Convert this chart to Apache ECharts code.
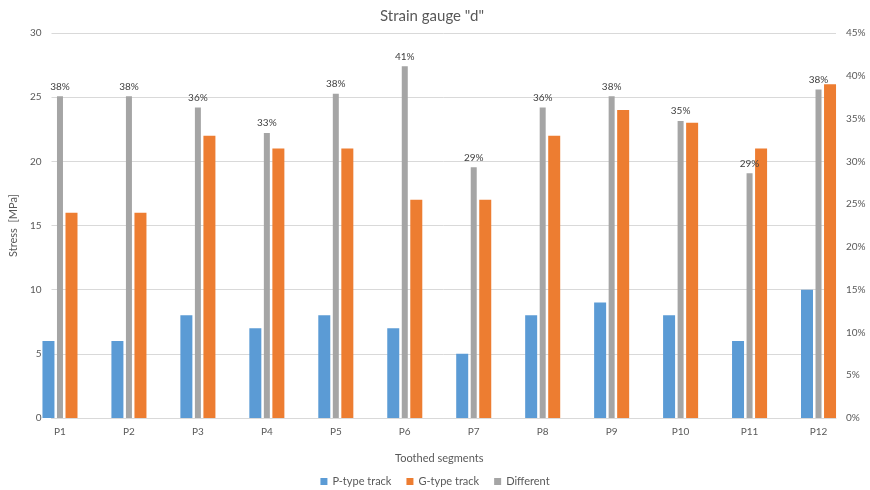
<!DOCTYPE html>
<html>
<head>
<meta charset="utf-8">
<script src="https://cdn.jsdelivr.net/npm/echarts@6/dist/echarts.min.js"></script>
<style>
  html, body { margin: 0; padding: 0; background: #ffffff; }
  #chart { width: 870px; height: 490px; }
</style>
</head>
<body>
<div id="chart"></div>
<script>
// Segment names along the bottom axis
const segments = ['P1', 'P2', 'P3', 'P4', 'P5', 'P6', 'P7', 'P8', 'P9', 'P10', 'P11', 'P12'];
// Stress per segment, MPa
const pTrack = [6, 6, 8, 7, 8, 7, 5, 8, 9, 8, 6, 10];
const gTrack = [16, 16, 22, 21, 21, 17, 17, 22, 24, 23, 21, 26];
// Relative difference between the tracks (fraction)
const difference = [0.376, 0.376, 0.363, 0.333, 0.379, 0.411, 0.293, 0.363, 0.376, 0.347, 0.286, 0.384];

const textColor = '#595959';
const gridColor = '#d9d9d9';
const fontFamily = 'Lato, "Open Sans", sans-serif';

const chart = echarts.init(document.getElementById('chart'), null, { renderer: 'canvas' });

const pct = v => Math.round(v * 100) + '%';

chart.setOption({
  animation: false,
  backgroundColor: '#ffffff',
  textStyle: { fontFamily: fontFamily, color: textColor },
  title: {
    text: 'Strain gauge "d"',
    left: 375,
    top: 4,
    textStyle: { fontSize: 15, fontWeight: 'normal', color: textColor, fontFamily: fontFamily }
  },
  legend: {
    data: ['P-type track', 'G-type track', 'Different'],
    top: 471,
    left: 'center',
    icon: 'rect',
    itemWidth: 7,
    itemHeight: 7,
    itemGap: 15,
    textStyle: { fontSize: 11, color: textColor, fontFamily: fontFamily }
  },
  grid: [
    // frame holding value axes and gridlines
    { left: 43, right: 34, top: 33, bottom: 72 },
    // frame holding the category bands for the bars
    { left: 25.5, right: 17, top: 33, bottom: 72 }
  ],
  xAxis: [
    {
      type: 'category', gridIndex: 0, data: segments,
      axisLine: { show: true, lineStyle: { color: gridColor, width: 1 } },
      axisTick: { show: false }, axisLabel: { show: false }, splitLine: { show: false }
    },
    {
      type: 'category', gridIndex: 1, data: segments,
      name: 'Toothed segments', nameLocation: 'middle', nameGap: 35,
      nameTextStyle: { fontSize: 11, color: textColor, fontFamily: fontFamily },
      axisLine: { show: false }, axisTick: { show: false },
      axisLabel: { fontSize: 10, color: textColor, margin: 9, fontFamily: fontFamily },
      splitLine: { show: false }
    },
    {
      type: 'category', gridIndex: 1, data: segments, show: false
    }
  ],
  yAxis: [
    {
      type: 'value', gridIndex: 0, position: 'left', min: 0, max: 30, interval: 5,
      name: 'Stress  [MPa]', nameLocation: 'middle', nameGap: 31, nameRotate: 90,
      nameTextStyle: { fontSize: 11, color: textColor, fontFamily: fontFamily },
      axisLine: { show: false }, axisTick: { show: false },
      axisLabel: { fontSize: 10, color: textColor, margin: 10, fontFamily: fontFamily },
      splitLine: { show: true, lineStyle: { color: gridColor, width: 1 } }
    },
    {
      type: 'value', gridIndex: 0, position: 'right', min: 0, max: 0.45, interval: 0.05,
      axisLine: { show: false }, axisTick: { show: false },
      axisLabel: { fontSize: 10, color: textColor, margin: 10, fontFamily: fontFamily, formatter: pct },
      splitLine: { show: false }
    },
    { type: 'value', gridIndex: 1, min: 0, max: 30, show: false, splitLine: { show: false } },
    { type: 'value', gridIndex: 1, min: 0, max: 0.45, show: false, splitLine: { show: false } }
  ],
  series: [
    {
      name: 'P-type track', type: 'bar', xAxisIndex: 1, yAxisIndex: 2,
      data: pTrack, barWidth: 12, barGap: '92%',
      itemStyle: { color: '#5B9BD5' }
    },
    {
      name: 'G-type track', type: 'bar', xAxisIndex: 1, yAxisIndex: 2,
      data: gTrack, barWidth: 12, barGap: '92%',
      itemStyle: { color: '#ED7D31' }
    },
    {
      name: 'Different', type: 'bar', xAxisIndex: 2, yAxisIndex: 3,
      data: difference, barWidth: 6,
      itemStyle: { color: '#A5A5A5' },
      label: {
        show: true, position: 'top', distance: 5,
        fontSize: 10, color: '#404040', fontFamily: fontFamily,
        formatter: p => pct(p.value)
      }
    }
  ]
});
</script>
</body>
</html>
